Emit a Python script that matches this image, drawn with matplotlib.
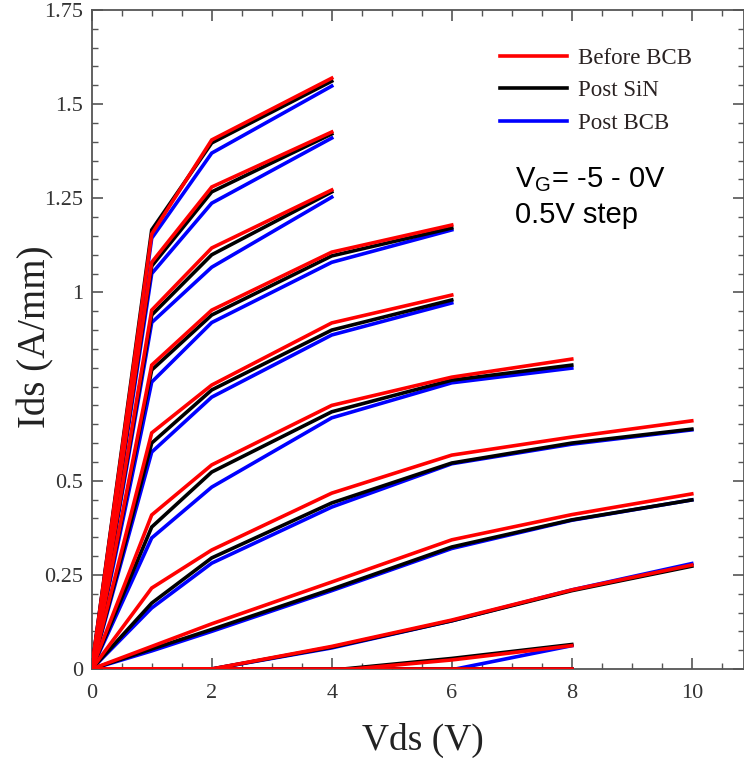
import matplotlib
matplotlib.use('Agg')
from matplotlib import pyplot as plt
from matplotlib.ticker import MultipleLocator

# Vds sweep points (V)
vds = [0, 1, 2, 4, 6, 8, 10]

# Ids (A/mm), one list per gate voltage, from VG = 0 V (top) down to -5 V
before_bcb = [
    [0, 1.155, 1.405, 1.569],
    [0, 1.080, 1.280, 1.426],
    [0, 0.953, 1.118, 1.272],
    [0, 0.807, 0.953, 1.107, 1.179],
    [0, 0.627, 0.754, 0.919, 0.993],
    [0, 0.409, 0.542, 0.700, 0.775, 0.823],
    [0, 0.215, 0.316, 0.467, 0.568, 0.616, 0.659],
    [0, 0.060, 0.120, 0.231, 0.343, 0.410, 0.465],
    [0, 0, 0, 0.060, 0.130, 0.210, 0.276],
    [0, 0, 0, -0.005, 0.024, 0.062],
    [0, 0, 0, 0, 0, 0],
]
post_sin = [
    [0, 1.166, 1.397, 1.561],
    [0, 1.070, 1.267, 1.421],
    [0, 0.940, 1.100, 1.267],
    [0, 0.794, 0.940, 1.097, 1.171],
    [0, 0.600, 0.741, 0.900, 0.980],
    [0, 0.377, 0.523, 0.683, 0.767, 0.807],
    [0, 0.175, 0.295, 0.441, 0.547, 0.600, 0.637],
    [0, 0.053, 0.105, 0.212, 0.324, 0.396, 0.449],
    [0, 0, 0, 0.058, 0.128, 0.208, 0.273],
    [0, 0, 0, -0.003, 0.028, 0.065],
    [0, 0, 0, 0, 0, 0],
]
post_bcb = [
    [0, 1.144, 1.370, 1.548],
    [0, 1.050, 1.237, 1.410],
    [0, 0.920, 1.067, 1.253],
    [0, 0.762, 0.920, 1.080, 1.166],
    [0, 0.576, 0.722, 0.887, 0.972],
    [0, 0.348, 0.483, 0.667, 0.760, 0.799],
    [0, 0.162, 0.281, 0.430, 0.545, 0.597, 0.635],
    [0, 0.048, 0.100, 0.208, 0.320, 0.395, 0.449],
    [0, 0, 0, 0.056, 0.128, 0.210, 0.280],
    [0, 0, 0, -0.030, -0.002, 0.062],
    [0, 0, 0, 0, 0, 0],
]

yticks = [0, 0.25, 0.5, 1, 1.25, 1.5, 1.75]
ytick_labels = ['0', '0.25', '0.5', '1', '1.25', '1.5', '1.75']

plt.rcParams['font.family'] = ['Liberation Serif', 'DejaVu Serif']

fig = plt.figure(figsize=(7.44, 7.59), dpi=100)
ax = fig.add_axes([91.7 / 744, 90 / 759, (744 - 91.7) / 744, 659 / 759])

series = [
    (post_bcb, '#0000ff', 'Post BCB'),
    (post_sin, '#000000', 'Post SiN'),
    (before_bcb, '#ff0000', 'Before BCB'),
]
handles = {}
for data, color, name in series:
    for curve in data:
        line, = ax.plot(vds[:len(curve)], curve, color=color, lw=2.6,
                        solid_joinstyle='miter', zorder=3)
    handles[name] = line

ax.set_xlim(0, 10.87)
ax.set_ylim(0, 1.75)
ax.xaxis.set_major_locator(MultipleLocator(2))
ax.xaxis.set_minor_locator(MultipleLocator(0.5))
ax.set_yticks(yticks)
ax.set_yticklabels(ytick_labels)
ax.yaxis.set_minor_locator(MultipleLocator(0.05))

ax.tick_params(which='both', direction='in', top=True, right=True,
               colors='#555555', labelcolor='#333333', labelsize=16)
ax.tick_params(which='major', length=8, width=1.2)
ax.tick_params(which='minor', length=4, width=1.0)
ax.tick_params(axis='x', which='major', pad=11)
ax.tick_params(axis='y', which='major', pad=6)
for sp in ax.spines.values():
    sp.set_color('#555555')
    sp.set_linewidth(1.3)

ax.set_xlabel('Vds (V)', fontsize=27, color='#222222')
ax.xaxis.set_label_coords(0.508, -0.123)
ax.xaxis.label.set_va('baseline')
ax.set_ylabel('Ids (A/mm)', fontsize=28, color='#222222')
ax.yaxis.set_label_coords(-0.0716, 0.505)
ax.yaxis.label.set_va('baseline')

names = ['Before BCB', 'Post SiN', 'Post BCB']
leg = ax.legend([handles[n] for n in names], names, loc='upper left',
                bbox_to_anchor=(0.5945, 0.974), frameon=False, fontsize=16.5,
                handlelength=2.93, handletextpad=0.48, labelspacing=0.5)
for t in leg.get_texts():
    t.set_color('#2a2222')

ax.text(0.649, 0.7314, r'V$_\mathregular{G}$= -5 - 0V', transform=ax.transAxes,
        fontsize=21, family='Liberation Sans', va='baseline', ha='left')
ax.text(0.649, 0.6768, '0.5V step', transform=ax.transAxes,
        fontsize=21, family='Liberation Sans', va='baseline', ha='left')

fig.savefig('out.png', dpi=100)
